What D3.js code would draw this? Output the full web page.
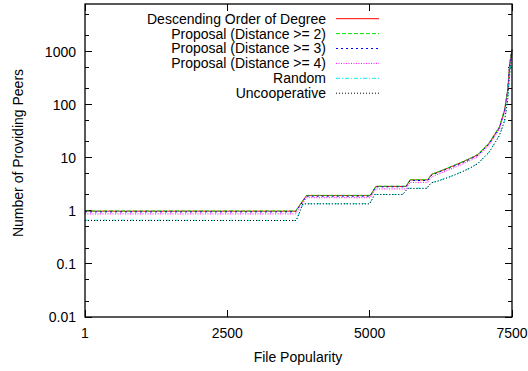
<!DOCTYPE html>
<html>
<head>
<meta charset="utf-8">
<script src="https://cdn.jsdelivr.net/npm/d3@7"></script>
<style>
  body { margin: 0; background: #fff; }
  svg { display: block; }
  text { font-family: "Liberation Sans", Arial, sans-serif; font-size: 14px; fill: #000; }
</style>
</head>
<body>
<svg id="chart" width="528" height="371"></svg>
<script>
// file popularity rank where each curve bends (upper and lower groups)
const xTop = [1, 3700, 3890, 5010, 5110, 5640, 5710, 6020, 6090, 6200, 6400, 6600, 6750, 6900, 7100, 7280, 7370, 7425, 7460, 7500];
const xLow = [1, 3710, 3830, 5000, 5090, 5580, 5670, 6000, 6080, 6200, 6400, 6600, 6750, 6900, 7100, 7280, 7370, 7425, 7460, 7500];

const degreeOrder = [0.99, 0.99, 1.95, 1.95, 2.9, 2.9, 3.85, 3.85, 4.9, 5.4, 6.6, 8.1, 9.6, 11.5, 19, 38, 80, 190, 600, 1100];
const proposal2   = [1.0, 1.0, 1.97, 1.97, 2.93, 2.93, 3.88, 3.88, 4.95, 5.45, 6.7, 8.2, 9.7, 11.7, 19.5, 39, 82, 195, 620, 1120];
const proposal3   = [0.96, 0.96, 1.9, 1.9, 2.85, 2.85, 3.75, 3.75, 4.8, 5.3, 6.4, 7.9, 9.3, 11.2, 18.5, 37, 78, 185, 590, 1080];
const proposal4   = [0.88, 0.88, 1.78, 1.78, 2.6, 2.6, 3.45, 3.45, 4.4, 4.9, 6.0, 7.4, 8.8, 10.6, 17.5, 35, 74, 175, 560, 1050];
const randomSel   = [0.67, 0.66, 1.37, 1.37, 2.05, 2.05, 2.68, 2.68, 3.4, 3.7, 4.4, 5.4, 6.4, 7.9, 13, 27, 51, 130, 400, 1000];
const uncoop      = [0.66, 0.66, 1.36, 1.36, 2.04, 2.04, 2.66, 2.66, 3.38, 3.65, 4.35, 5.3, 6.3, 7.8, 12.8, 26.5, 50, 125, 390, 990];

const seriesNames = ["Descending Order of Degree", "Proposal (Distance >= 2)", "Proposal (Distance >= 3)",
                     "Proposal (Distance >= 4)", "Random", "Uncooperative"];

const xTicks = [1, 2500, 5000, 7500];
const yTicks = [0.01, 0.1, 1, 10, 100, 1000];

const STYLES = [
  { color: "#ff0000", dash: null },
  { color: "#00e000", dash: "4,2" },
  { color: "#0000ff", dash: "2,3" },
  { color: "#ff00ff", dash: "1,1.5" },
  { color: "#00f0f0", dash: "4,2,1,2" },
  { color: "#000000", dash: "1,2" }
];

const series = [
  { name: seriesNames[0], xs: xTop, ys: degreeOrder },
  { name: seriesNames[1], xs: xTop, ys: proposal2 },
  { name: seriesNames[2], xs: xTop, ys: proposal3 },
  { name: seriesNames[3], xs: xTop, ys: proposal4 },
  { name: seriesNames[4], xs: xLow, ys: randomSel },
  { name: seriesNames[5], xs: xLow, ys: uncoop }
];

const margin = { left: 85, right: 512, top: 4, bottom: 317 };
const svg = d3.select("#chart");

const x = d3.scaleLinear().domain([1, 7500]).range([margin.left, margin.right]);
const y = d3.scaleLog().domain([0.01, 8000]).range([margin.bottom, margin.top]);

// ticks: major on decades, minor at 2 and 5 (gnuplot style, mirrored)
const minor = [];
yTicks.concat([10000]).forEach(d => { minor.push(d * 0.2, d * 0.5); });
const minorIn = minor.filter(d => d > 0.01 && d < 8000);

const g = svg.append("g");
yTicks.forEach(d => {
  g.append("line").attr("x1", margin.left).attr("x2", margin.left + 7).attr("y1", y(d)).attr("y2", y(d));
  g.append("line").attr("x1", margin.right).attr("x2", margin.right - 7).attr("y1", y(d)).attr("y2", y(d));
});
minorIn.forEach(d => {
  g.append("line").attr("x1", margin.left).attr("x2", margin.left + 4).attr("y1", y(d)).attr("y2", y(d));
  g.append("line").attr("x1", margin.right).attr("x2", margin.right - 4).attr("y1", y(d)).attr("y2", y(d));
});
xTicks.forEach(d => {
  g.append("line").attr("x1", x(d)).attr("x2", x(d)).attr("y1", margin.bottom).attr("y2", margin.bottom - 7);
  g.append("line").attr("x1", x(d)).attr("x2", x(d)).attr("y1", margin.top).attr("y2", margin.top + 7);
});
g.selectAll("line").attr("stroke", "#000").attr("stroke-width", 1).attr("shape-rendering", "crispEdges");

svg.selectAll(".ylab").data(yTicks).enter().append("text")
  .attr("x", margin.left - 9).attr("y", d => y(d)).attr("dy", "0.35em")
  .attr("text-anchor", "end").text(d => String(d));

svg.selectAll(".xlab").data(xTicks).enter().append("text")
  .attr("x", d => x(d)).attr("y", 333).attr("dy", "0.35em")
  .attr("text-anchor", "middle").text(d => String(d));

svg.append("text").attr("x", 298).attr("y", 357).attr("dy", "0.35em")
  .attr("text-anchor", "middle").text("File Popularity");

svg.append("text").attr("transform", "translate(23,153) rotate(-90)")
  .attr("text-anchor", "middle").text("Number of Providing Peers");

// curves
const line = d3.line().x(d => x(d[0])).y(d => y(d[1]));
series.forEach((s, i) => {
  const pts = s.xs.map((v, k) => [v, s.ys[k]]);
  svg.append("path").datum(pts)
    .attr("d", line)
    .attr("fill", "none")
    .attr("stroke", STYLES[i].color)
    .attr("stroke-width", 1)
    .attr("stroke-dasharray", STYLES[i].dash);
});

// legend
series.forEach((s, i) => {
  const ly = 18.7 + i * 14.9;
  svg.append("text").attr("x", 326).attr("y", ly).attr("dy", "0.35em")
    .attr("text-anchor", "end").text(s.name);
  svg.append("line").attr("x1", 336).attr("x2", 379).attr("y1", ly).attr("y2", ly)
    .attr("stroke", STYLES[i].color).attr("stroke-width", 1)
    .attr("stroke-dasharray", STYLES[i].dash);
});

// border
svg.append("rect")
  .attr("x", margin.left).attr("y", margin.top)
  .attr("width", margin.right - margin.left).attr("height", margin.bottom - margin.top)
  .attr("fill", "none").attr("stroke", "#000").attr("stroke-width", 1.3);
</script>
</body>
</html>
